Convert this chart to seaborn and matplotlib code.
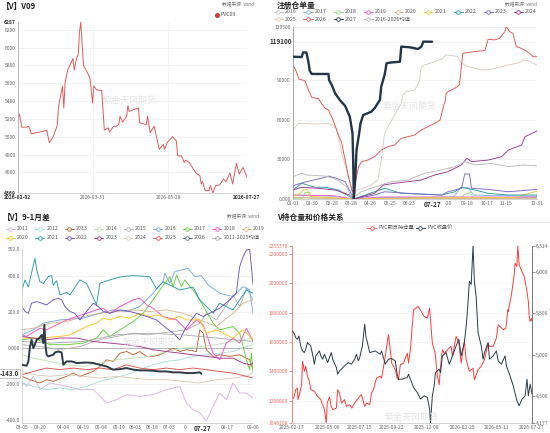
import pandas as pd
import matplotlib
matplotlib.use("Agg")
import matplotlib.pyplot as plt
import seaborn as sns
from matplotlib.lines import Line2D

W, H = 550, 433

# ---------------- [V] V09 close (days after 2026-02-02) ----------------
v09_start = "2026-02-02"
v09_day = [0, 1, 3, 6, 8, 9, 10, 22, 24, 27, 30, 31, 34, 35, 36, 38, 42, 43, 45, 46,
           47, 48, 50, 53, 55, 57, 58, 60, 64, 66, 69, 70, 73, 75, 77, 78, 80, 83, 84, 85,
           92, 93, 98, 99, 101, 104, 108, 111, 112, 114, 118, 121, 122, 125, 127, 128, 131, 134, 136, 139,
           140, 141, 143, 146, 147, 149, 151, 154, 157, 159, 162, 164, 167, 169, 172, 175]
v09_close = [5211, 5255, 5107, 5107, 5118, 5093, 5033, 5070, 4933, 5007, 5126, 5341, 5570, 5322, 5611, 5748, 5878, 5748, 5896, 5915,
             6174, 6287, 5804, 5718, 5656, 5378, 5570, 5526, 5518, 5074, 5100, 5052, 5118, 5118, 5137, 5230, 5163, 5230, 5348, 5285,
             5322, 5155, 5137, 5230, 5044, 5118, 4859, 4915, 4859, 4933, 5000, 4952, 4785, 4785, 4711, 4737, 4711, 4637, 4593, 4563,
             4470, 4496, 4396, 4396, 4452, 4369, 4452, 4459, 4526, 4496, 4593, 4470, 4704, 4581, 4655, 4544]
v09_ticks = ["2026-02-02", "2026-03-31", "2026-05-28", "2026-07-27"]

# ---------------- registered warehouse receipts: (day of year, value) ----------------
wr_2016 = [(0, 1500), (91, 0), (365, 800)]
wr_2017 = [(0, 3000), (60, 2000), (91, 0), (130, 1000), (240, 1500), (250, 8000), (262, 9000), (270, 3000), (365, 2000)]
wr_2018 = [(0, 500), (15, 500), (18, 5000), (25, 5000), (28, 0), (250, 0), (255, 3000), (265, 5000), (270, 500), (365, 1000)]
wr_2019 = [(0, 3000), (60, 2500), (91, 0), (130, 1500), (365, 1500)]
wr_2020 = [(0, 1000), (91, 0), (365, 500)]
wr_2021 = [(0, 2000), (10, 4000), (15, 7000), (22, 7000), (25, 2000), (91, 0), (200, 1000), (330, 1000), (365, 6000)]
wr_2022 = [(0, 6800), (13, 11900), (33, 8900), (48, 8900), (68, 6800), (91, 0), (137, 8100), (162, 4300), (222, 3000),
           (242, 5500), (252, 8900), (272, 6800), (292, 4300), (322, 3000), (365, 3000)]
wr_2023 = [(0, 9500), (3, 10600), (20, 13100), (48, 16400), (53, 17400), (65, 15700), (78, 13100), (91, 0), (122, 3000),
           (137, 5500), (172, 4300), (222, 3000), (232, 5500), (252, 8100), (257, 19000), (264, 19000), (267, 8100),
           (292, 7300), (322, 5500), (342, 6300), (365, 7300)]
wr_2024 = [(0, 6800), (13, 8900), (38, 8100), (63, 6800), (85, 3000), (91, 0), (122, 4300), (135, 10600), (152, 11900),
           (172, 13100), (192, 14400), (212, 18200), (232, 20700), (252, 25800), (260, 30800), (267, 28300), (292, 29500),
           (312, 32000), (322, 37100), (342, 40900), (347, 47200), (365, 51500)]
wr_2025 = [(0, 52300), (8, 57300), (33, 56800), (53, 57300), (65, 53500), (73, 34600), (80, 22000), (87, 9300), (89, 1700),
           (95, 6800), (105, 8100), (117, 10600), (127, 14400), (132, 29500), (137, 49800), (145, 57300), (152, 63600),
           (162, 72500), (164, 78800), (169, 81300), (182, 82600), (189, 88900), (192, 100300), (197, 101500), (212, 104000),
           (222, 105900), (229, 109100), (242, 108300), (246, 107800), (252, 102800), (262, 100300), (272, 99000),
           (284, 97700), (297, 98200), (322, 101500), (339, 103300), (344, 105400), (352, 104600), (365, 101500)]
wr_2026 = [(0, 101500), (4, 97700), (9, 90700), (18, 89700), (23, 82600), (28, 77000), (38, 76000), (43, 72000), (48, 68700),
           (53, 67400), (60, 59800), (67, 49800), (73, 42200), (78, 29500), (83, 16900), (88, 6800), (90, 5500), (93, 11900),
           (98, 24500), (103, 28300), (112, 29500), (122, 32000), (132, 37100), (142, 39600), (152, 40900), (162, 46000),
           (172, 47200), (182, 48500), (192, 52300), (202, 54800), (212, 57300), (220, 59800), (225, 69900), (228, 75000),
           (229, 80000), (232, 81300), (242, 83800), (249, 86400), (254, 110400), (262, 110900), (272, 111700),
           (287, 112500), (292, 121000), (302, 120500), (309, 121800), (317, 126800), (319, 130500), (324, 126800),
           (329, 125500), (334, 115400), (339, 114600), (346, 112900), (354, 110400), (359, 107800), (365, 107800)]
wr_2027 = [(0, 107800), (13, 107500), (15, 111000), (20, 111000), (23, 104000), (25, 97200), (28, 94700), (53, 94700),
           (54, 90000), (58, 86400), (63, 80000), (70, 75000), (78, 70500), (85, 62300), (89, 49800), (90, 29500), (91, 0),
           (93, 14400), (95, 37100), (99, 49800), (101, 57300), (105, 63600), (112, 65000), (117, 66100), (122, 68700),
           (130, 75000), (132, 85100), (137, 94000), (140, 102800), (145, 103300), (160, 104000), (162, 115400),
           (175, 114900), (187, 113600), (192, 115400), (195, 119200), (208, 119100)]
wr_mean = [(0, 16900), (13, 19500), (20, 18200), (48, 17400), (67, 14400), (80, 9300), (88, 500), (102, 5500), (117, 8100),
           (132, 10600), (147, 13100), (172, 14400), (197, 19500), (222, 22000), (242, 24500), (257, 28300), (272, 25800),
           (297, 27000), (322, 24500), (346, 25800), (365, 25000)]
wr_tick_labels = ["01-01", "01-30", "02-28", "03-28", "04-26", "05-25", "06-23", "-20", "09-18",
                  "10-17", "11-15", "12-31"]

# ---------------- 9-1 spread: (trading day index from 03-05, value) ----------------
spr_2011 = [(0, -185), (2.6, -213), (6.4, -157), (10.1, -231), (15.8, -194), (25.1, -213), (32.6, -231), (40.2, -231),
            (47.7, -306), (53.3, -287), (58.9, -259), (66.4, -269), (73.9, -259), (81.4, -231), (88.9, -213), (92.7, -306),
            (96.4, -343), (100.2, -361), (103.9, -407), (106.8, -343), (108.6, -306), (111.4, -250), (115.2, -287),
            (118.9, -194), (122.7, -250), (126.5, -250), (130.2, -278)]
spr_2012 = [(0, -194), (6.4, -213), (13.9, -231), (21.4, -222), (28.9, -231), (36.4, -213), (43.9, -185), (51.4, -167),
            (58.9, -148), (66.4, -120), (73.9, -93), (81.4, -74), (88.9, -65), (96.4, -46), (103.9, -37), (111.4, -28),
            (118.9, -19), (126.5, 9), (130.2, 19)]
spr_2013 = [(0, -157), (4.5, -176), (10.1, -194), (13.9, -176), (17.6, -185), (25.1, -157), (28.9, -139), (32.6, -157),
            (40.2, -130), (43.9, -102), (47.7, -65), (51.4, -74), (55.2, -28), (58.9, -19), (62.7, -37), (66.4, -19),
            (70.2, -46), (73.9, -46), (77.7, -37), (81.4, -19), (85.2, 0), (88.9, -19), (92.7, -9), (98.3, -19),
            (100.2, 102), (102.1, 83), (103.9, -9), (107.7, -46), (111.4, -37), (117.1, -46), (122.7, -37),
            (128.3, -65), (130.2, -120)]
spr_2014 = [(0, -37), (6.4, -56), (15.8, -74), (25.1, -93), (34.5, -102), (43.9, -83), (53.3, -65), (62.7, -56),
            (72, -46), (81.4, -19), (90.8, 0), (100.2, 9), (109.6, 19), (118.9, 37), (130.2, 56)]
spr_2015 = [(0, 19), (10.1, 9), (21.4, -9), (32.6, 9), (43.9, 46), (53.3, 65), (62.7, 83), (70.2, 74), (77.7, 83),
            (85.2, 93), (92.7, 102), (100.2, 139), (103.9, 194), (109.6, 157), (118.9, 296), (122.7, 231),
            (126.5, 333), (130.2, 269)]
spr_2016 = [(0, 74), (6.4, 102), (12, 139), (21.4, 157), (34.5, 167), (43.9, 194), (51.4, 213), (58.9, 204), (66.4, 231),
            (73.9, 306), (79.5, 370), (80.5, 417), (83.3, 361), (86.1, 426), (89.9, 435), (93.6, 444), (97.4, 398),
            (101.1, 404), (104.9, 352), (111.4, 306), (118.9, 287), (124.6, 343), (128.3, 324), (130.2, 194)]
spr_2017 = [(0, 46), (6.4, 56), (15.8, 19), (25.1, 19), (34.5, 28), (42, 56), (45.8, 102), (49.5, 65), (55.2, 102),
            (62.7, 148), (68.3, 194), (73.9, 269), (77.7, 324), (83.3, 398), (85.2, 343), (87.1, 407), (89.9, 343),
            (91.7, 380), (96.4, 324), (100.2, 269), (103.9, 204), (107.7, 139), (111.4, 102), (118.9, 120),
            (122.7, 83), (126.5, -65), (128.3, -120), (129.3, -28), (130.2, -139)]
spr_2018 = [(0, 74), (2.6, 65), (5.4, 83), (10.1, 111), (13.9, 102), (19.5, 130), (25.1, 157), (30.8, 176), (36.4, 194),
            (42, 213), (45.8, 222), (49.5, 194), (55.2, 231), (62.7, 269), (66.4, 278), (70.2, 241), (73.9, 222),
            (79.5, 176), (87.1, 157), (92.7, 102), (98.3, 157), (102.1, 130), (107.7, -28), (111.4, -65), (115.2, 28),
            (118.9, 56), (122.7, 28), (126.5, 111), (130.2, 37)]
spr_2019 = [(0, 102), (6.4, 111), (15.8, 139), (25.1, 148), (34.5, 176), (43.9, 194), (53.3, 204), (62.7, 213),
            (72, 204), (81.4, 213), (90.8, 194), (100.2, 157), (109.6, 120), (118.9, 194), (124.6, 250), (130.2, 269)]
spr_2020 = [(0, 56), (10.1, 56), (21.4, 65), (27, 74), (32.6, 102), (36.4, 120), (42, 139), (45.8, 167), (49.5, 157),
            (55.2, 176), (60.8, 167), (66.4, 194), (72, 176), (77.7, 185), (83.3, 157), (88.9, 176), (92.7, 157),
            (100.2, 157), (103.9, 83), (109.6, 102), (115.2, 74), (118.9, 56), (124.6, 102), (130.2, 46)]
spr_2021 = [(0, 324), (1.7, 380), (3.6, 340), (5.4, 420), (7.3, 500), (8.3, 435), (10.1, 370), (12, 360), (14.8, 398),
            (16.7, 404), (17.6, 350), (19.5, 375), (21.4, 296), (25.1, 310), (27, 296), (32.6, 380), (36.4, 360),
            (42, 241), (43.9, 361), (49.5, 380), (56.1, 398), (62.7, 404), (72, 398), (75.8, 330), (79.5, 370),
            (88.9, 324), (96.4, 340), (100.2, 269), (107.7, 194), (111.4, 250), (118.9, 213), (126.5, 324), (130.2, 306)]
spr_2022 = [(0, 231), (1.7, 204), (3.6, 194), (5.4, 250), (8.3, 259), (11.1, 250), (13.9, 241), (17.6, 269), (20.5, 278),
            (22.3, 269), (24.2, 231), (27, 204), (29.8, 194), (32.6, 157), (36.4, 204), (40.2, 250), (43, 231),
            (45.8, 204), (49.5, 194), (55.2, 213), (60.8, 204), (64.5, 194), (70.2, 176), (75.8, 157), (81.4, 111),
            (85.2, 83), (88.9, 46), (91.7, 102), (95.5, 157), (98.3, 194), (102.1, 176), (107.7, 204), (111.4, 222),
            (117.1, 269), (120.8, 306), (122.7, 454), (124.6, 509), (126.5, 546), (128.3, 552), (129.3, 454),
            (130.2, 352)]
spr_2023 = [(0, 65), (6.4, 56), (13.9, 46), (21.4, 56), (30.8, 56), (40.2, 37), (49.5, 28), (58.9, 19), (66.4, 9),
            (73.9, -9), (81.4, -19), (88.9, -28), (96.4, -37), (103.9, -46), (111.4, -56), (118.9, -56), (124.6, -83),
            (128.3, -93), (130.2, -83)]
spr_2024 = [(0, -130), (6.4, -148), (15.8, -157), (25.1, -148), (34.5, -157), (43.9, -167), (53.3, -157), (62.7, -167),
            (72, -176), (81.4, -176), (90.8, -185), (100.2, -194), (109.6, -176), (118.9, -167), (126.5, -157),
            (130.2, -139)]
spr_2025 = [(0, -148), (6.4, -130), (13.9, -111), (21.4, -120), (28.9, -111), (36.4, -120), (43.9, -111), (51.4, -120),
            (58.9, -93), (66.4, -111), (73.9, -120), (81.4, -111), (88.9, -120), (96.4, -111), (103.9, -120),
            (111.4, -130), (118.9, -139), (126.5, -157), (130.2, -167)]
spr_2026 = [(0, -93), (2.6, -98), (3.6, -74), (4.5, 9), (5.4, 46), (6.4, 0), (8.3, 46), (9.8, 56), (11.1, 74), (12, 28),
            (12.6, 130), (13.3, 9), (13.9, -37), (14.8, -46), (17.6, -37), (18.6, -24), (20.5, -19), (22.3, -24),
            (23.3, -93), (25.1, -74), (28, -74), (30.8, -83), (36.4, -80), (40.2, -83), (43.9, -93), (47.7, -102),
            (51.4, -120), (55.2, -117), (58.9, -111), (62.7, -120), (66.4, -124), (70.2, -124), (73.9, -126),
            (77.7, -130), (81.4, -130), (85.2, -135), (88.9, -135), (92.7, -139), (96.4, -139), (100.2, -135),
            (101.1, -143)]
spr_mean = [(0, 37), (15.8, 28), (34.5, 37), (53.3, 74), (72, 83), (90.8, 74), (109.6, 56), (130.2, 37)]
spr_tick_labels = ["03-05", "03-20", "04-04", "04-19", "05-04", "05-19", "06-03", "06-18", "07-03", "0",
                   "08-17", "09-06"]

# ---------------- open interest and close (days after 2025-02-17) ----------------
br_start = "2025-02-17"
oi_day = [0, 4, 8, 12, 13, 18, 21, 23, 27, 30, 34, 38, 41, 49, 56, 63, 71, 75, 77, 82,
          86, 89, 97, 100, 104, 108, 115, 119, 126, 131, 137, 148, 152, 159, 163, 170, 174, 178, 185, 193,
          196, 204, 207, 211, 215, 218, 226, 230, 233, 237, 244, 252, 255, 259, 263, 266, 276, 289, 296, 301,
          307, 313, 318, 322, 325, 329, 333, 340, 348, 351, 359, 365, 370, 377, 381, 388, 396, 399, 407, 414,
          421, 429, 432, 440, 447, 451, 462, 468, 472, 473, 477, 480, 486, 488, 492, 494, 497, 503, 508, 514,
          517, 519, 521, 524, 525]
oi = [1211000, 1218000, 1275000, 1286000, 1207000, 1264000, 1309000, 1468000, 1400000, 1434000,
      1366000, 1332000, 1275000, 1264000, 1229000, 1207000, 1139000, 1046108, 1184000, 1225000,
      1161000, 1139000, 1150000, 1275000, 1252000, 1184000, 1207000, 1161000, 1173000, 1150000,
      1184000, 1229000, 1241000, 1161000, 1184000, 1173000, 1252000, 1275000, 1354000, 1366000,
      1354000, 1502000, 1570000, 1649000, 1547000, 1456000, 1411000, 1354000, 1343000, 1445000,
      1456000, 1524000, 1456000, 1547000, 1706000, 1819000, 1842000, 1774000, 1762000, 1830000,
      1592000, 1524000, 1366000, 1309000, 1434000, 1547000, 1524000, 1547000, 1570000, 1502000,
      1638000, 1592000, 1456000, 1604000, 1479000, 1400000, 1422000, 1343000, 1411000, 1434000,
      1479000, 1592000, 1570000, 1570000, 1626000, 1717000, 1683000, 1694000, 1819000, 1807000,
      1875000, 1921000, 2057000, 2137000, 2114000, 2255370, 2125000, 2080000, 2046000, 1944000,
      1875000, 1773000, 1740000, 1762000, 1740000]
px_day = [0, 4, 8, 12, 15, 19, 23, 27, 30, 34, 41, 45, 49, 52, 60, 63, 67, 71, 78, 86,
          89, 97, 100, 104, 108, 115, 123, 130, 137, 141, 145, 148, 154, 159, 162, 165, 170, 182, 193, 196,
          204, 211, 218, 226, 230, 233, 241, 252, 255, 259, 266, 274, 281, 289, 296, 301, 303, 307, 311, 314,
          322, 325, 329, 337, 344, 351, 359, 365, 370, 377, 381, 384, 388, 392, 396, 399, 403, 407, 414, 418,
          421, 429, 432, 440, 447, 451, 458, 466, 469, 477, 484, 492, 497, 503, 510, 514, 517, 521, 525]
close = [5288, 5268, 5208, 5188, 5228, 5108, 5048, 5028, 5068, 5148, 5108, 5008, 4888, 4988, 5048, 4988, 4948, 5008, 4908, 5028,
         4948, 4848, 4768, 4808, 4828, 4868, 4908, 4888, 4948, 5008, 4928, 4968, 5108, 5368, 5208, 5148, 5028, 5048, 5008, 5048,
         4888, 4948, 4956, 4928, 4768, 4708, 4708, 4728, 4768, 4708, 4608, 4548, 4468, 4508, 4488, 4348, 4177, 4508, 4628, 4788,
         4828, 4788, 4988, 5028, 4888, 4988, 5108, 5188, 4988, 5148, 5348, 5548, 5887, 5848, 6314, 5887, 5688, 5268, 5108, 4948,
         5028, 5148, 4948, 4988, 5048, 4928, 4888, 4988, 4868, 4748, 4628, 4448, 4388, 4468, 4508, 4708, 4508, 4648, 4528]
br_ticks = ["2025-02-17", "2025-05-06", "2025-07-15", "2025-09-22", "2025-12-08", "2026-02-25", "2026-05-11", "2026-07-27"]

# ---------------- style ----------------
sns.set_theme(style="white")
plt.rcParams["font.family"] = ["Noto Sans CJK SC", "DejaVu Sans"]
plt.rcParams["axes.unicode_minus"] = False

TICK = 3.6
LEG = 3.8
fig = plt.figure(figsize=(W / 100, H / 100), dpi=100, facecolor="white")


def fx(x):
    return x / W


def fy(y):
    return 1 - y / H


def base_style(ax, left="#aaaaaa", bottom="#cccccc"):
    for s in ["top", "right"]:
        ax.spines[s].set_visible(False)
    ax.spines["left"].set_color(left)
    ax.spines["bottom"].set_color(bottom)
    ax.spines["left"].set_linewidth(0.6)
    ax.spines["bottom"].set_linewidth(0.6)
    ax.tick_params(labelsize=TICK, length=0, pad=1.5, colors="#666666")
    ax.set_xlabel("")
    ax.set_ylabel("")


def draw(ax, pts, color, lw=0.6, z=2):
    sns.lineplot(x=[p[0] for p in pts], y=[p[1] for p in pts], ax=ax, color=color,
                 linewidth=lw, zorder=z, legend=False)


def legend_item(x, y, color, label):
    fig.add_artist(Line2D([fx(x - 4.5), fx(x + 4.5)], [fy(y), fy(y)], color=color, lw=0.7,
                          transform=fig.transFigure))
    fig.add_artist(Line2D([fx(x)], [fy(y)], marker="o", ms=2.6, mfc="white", mec=color, mew=0.6,
                          transform=fig.transFigure))
    fig.text(fx(x + 7), fy(y), label, fontsize=LEG, color="#555555", va="center", ha="left")


def title(x, y, s):
    fig.text(fx(x), fy(y), s, fontsize=5.6, fontweight="bold", color="#222222", va="center", ha="left")


def source(x, y):
    fig.text(fx(x), fy(y), "数据来源: wind", fontsize=3.4, color="#777777", va="center", ha="left")


def watermark(x, y):
    fig.text(fx(x), fy(y), "紫金天风期货", fontsize=6.5, color="#e4e4e4", va="center", ha="center", zorder=0)


# ================= panel 1: V09 =================
ax1 = fig.add_axes([fx(18), fy(193), fx(247) - fx(18), fy(22) - fy(193)])
v09_x = pd.Timestamp(v09_start) + pd.to_timedelta(v09_day, unit="D")
sns.lineplot(x=v09_x, y=v09_close, ax=ax1, color="#e05a5a", linewidth=0.7, legend=False)
base_style(ax1)
ax1.set_ylim(4369, 6287)
ax1.set_xlim(pd.Timestamp(v09_ticks[0]), pd.Timestamp(v09_ticks[-1]))
yt = [4369, 4600, 4800, 5000, 5200, 5400, 5600, 5800, 6000, 6200, 6287]
ax1.set_yticks(yt)
ax1.set_yticklabels([str(v) for v in yt])
ax1.set_xticks(pd.to_datetime(v09_ticks))
ax1.set_xticklabels(v09_ticks)
for lab in [ax1.get_yticklabels()[0], ax1.get_yticklabels()[-1], ax1.get_xticklabels()[0], ax1.get_xticklabels()[-1]]:
    lab.set_fontweight("bold")
    lab.set_color("#333333")
for v in yt[1:-1]:
    ax1.axhline(v, color="#eeeeee", lw=0.5, zorder=0)
for d in v09_ticks[1:3]:
    ax1.axvline(pd.Timestamp(d), color="#eeeeee", lw=0.5, zorder=0)
title(2, 6, "【V】V09")
fig.add_artist(Line2D([fx(217)], [fy(15)], marker="o", ms=2.6, color="#d33b3b", transform=fig.transFigure))
fig.text(fx(220.5), fy(15), "PVC09", fontsize=LEG, color="#555555", va="center", ha="left")
source(222, 4)
watermark(130, 100)

# ================= panel 2: warehouse receipts =================
ax2 = fig.add_axes([fx(293), fy(199), fx(537) - fx(293), fy(26.7) - fy(199)])
wr_series = [wr_2016, wr_2017, wr_2018, wr_2019, wr_2020, wr_2021, wr_2022, wr_2023, wr_2024, wr_2025, wr_2026, wr_mean]
wr_names = ["2016", "2017", "2018", "2019", "2020", "2021", "2022", "2023", "2024", "2025", "2026", "2016-2026均值"]
wr_colors = ["#c9c9c9", "#7cb5ec", "#8fe07a", "#f25ad6", "#d4b48c", "#f5c63c", "#2a9ca4", "#7a66c8", "#9e3592",
             "#d9ccbe", "#e0544e", "#b9b9b9"]
order = [0, 1, 2, 3, 4, 5, 6, 7, 8, 11, 9, 10]
for i in order:
    draw(ax2, wr_series[i], wr_colors[i], lw=0.65)
draw(ax2, wr_2027, "#22354a", lw=1.7, z=5)
base_style(ax2, left="#999999")
ax2.set_xlim(0, 365)
ax2.set_ylim(0, 130500)
yt2 = [0, 30000, 60000, 90000, 130500]
ax2.set_yticks(yt2)
ax2.set_yticklabels(["0.000", "30000", "60000", "90000", "130500"])
ax2.set_xticks([0, 29, 58, 87, 116, 145, 174, 232, 261, 290, 319, 365])
ax2.set_xticklabels(wr_tick_labels)
for v in [30000, 60000, 90000, 119100, 130500]:
    ax2.axhline(v, color="#eeeeee", lw=0.5, zorder=0)
ax2.text(-0.006, 119100, "119100", transform=ax2.get_yaxis_transform(), ha="right", va="center",
         fontsize=4.6, fontweight="bold", color="#333333", zorder=10,
         bbox=dict(fc="white", ec="none", pad=0.6))
ax2.text(208, -0.012, "07-27", transform=ax2.get_xaxis_transform(), ha="center", va="top",
         fontsize=4.6, fontweight="bold", color="#333333", zorder=10, clip_on=False,
         bbox=dict(fc="white", ec="none", pad=0.6))
title(277, 5, "注册仓单量")
source(505, 4)
tr_row1 = list(zip(wr_names[:9], wr_colors[:9]))
tr_row2 = [("2025", wr_colors[9]), ("2026", wr_colors[10]), ("2027", "#22354a"), (wr_names[11], wr_colors[11])]
for i, (lab, col) in enumerate(tr_row1):
    legend_item(278 + 30 * i, 11.7, col, lab)
for i, (lab, col) in enumerate(tr_row2):
    legend_item(278 + 30 * i, 19.2, col, lab)
watermark(410, 106)

# ================= panel 3: 9-1 spread =================
ax3 = fig.add_axes([fx(22), fy(423), fx(253) - fx(22), fy(249) - fy(423)])
spr_series = [spr_2011, spr_2012, spr_2013, spr_2014, spr_2015, spr_2016, spr_2017, spr_2018, spr_2019,
              spr_2020, spr_2021, spr_2022, spr_2023, spr_2024, spr_2025, spr_mean]
spr_names = ["2011", "2012", "2013", "2014", "2015", "2016", "2017", "2018", "2019",
             "2020", "2021", "2022", "2023", "2024", "2025", "2011-2025均值"]
spr_colors = ["#d5b3e5", "#a9dcd7", "#c0622d", "#bfe3b5", "#b3b3b3", "#6fa9e6", "#62d03c", "#ff4cc6", "#d4b98d",
              "#ffc31a", "#2a99a3", "#6e52c2", "#a0338d", "#dccab6", "#e0524b", "#a9a9a9"]
for pts, col in zip(spr_series, spr_colors):
    draw(ax3, pts, col, lw=0.65)
draw(ax3, spr_2026, "#2e3b47", lw=1.4, z=5)
base_style(ax3, left="#cccccc", bottom="#cccccc")
ax3.set_xlim(0, 130.2)
ax3.set_ylim(-417, 552)
yt3 = [-400, -200, 0, 200, 400, 552]
ax3.set_yticks(yt3)
ax3.set_yticklabels(["-400.0", "-200.0", "0.000", "200.0", "400.0", "552.0"])
spr_tick_pos = [0, 10.1, 23.1, 34.3, 44.5, 54.6, 63.6, 73.1, 82.7, 92.0, 115.4, 130]
ax3.set_xticks(spr_tick_pos)
ax3.set_xticklabels(spr_tick_labels)
for v in [-400, -200, 200, 400]:
    ax3.axhline(v, color="#eeeeee", lw=0.5, zorder=0)
ax3.axhline(0, color="#aaaaaa", lw=0.6, zorder=1)
ax3.text(-0.012, -143, "-143.0", transform=ax3.get_yaxis_transform(), ha="right", va="center",
         fontsize=4.5, fontweight="bold", color="#333333", zorder=10, clip_on=False,
         bbox=dict(fc="white", ec="#999999", lw=0.4, pad=0.8))
ax3.text(101.8, -0.012, "07-27", transform=ax3.get_xaxis_transform(), ha="center", va="top",
         fontsize=4.6, fontweight="bold", color="#333333", zorder=10, clip_on=False,
         bbox=dict(fc="white", ec="none", pad=0.6))
title(3, 217, "【V】9-1月差")
source(227, 216)
bl_row1 = list(zip(spr_names[:9], spr_colors[:9]))
bl_row2 = list(zip(spr_names[9:15], spr_colors[9:15])) + [("2026", "#5a6570"), (spr_names[15], spr_colors[15])]
for i, (lab, col) in enumerate(bl_row1):
    legend_item(10 + 29.5 * i, 228.5, col, lab)
for i, (lab, col) in enumerate(bl_row2):
    legend_item(10 + 29.5 * i, 237.5, col, lab)
watermark(150, 342)

# ================= panel 4: open interest vs price =================
ax4 = fig.add_axes([fx(292), fy(423.3), fx(532) - fx(292), fy(245.7) - fy(423.3)])
oi_x = pd.Timestamp(br_start) + pd.to_timedelta(oi_day, unit="D")
px_x = pd.Timestamp(br_start) + pd.to_timedelta(px_day, unit="D")
sns.lineplot(x=oi_x, y=oi, ax=ax4, color="#ff3b3b", linewidth=0.7, legend=False)
ax5 = ax4.twinx()
sns.lineplot(x=px_x, y=close, ax=ax5, color="#2b3a44", linewidth=0.7, legend=False)
base_style(ax4, left="#f28b8b", bottom="#cccccc")
ax4.spines["left"].set_linewidth(0.8)
ax4.set_ylim(1046108, 2255370)
ax5.set_ylim(4177, 6314)
ax4.set_xlim(pd.Timestamp(br_ticks[0]), pd.Timestamp(br_ticks[-1]))
yt4 = [1046108, 1200000, 1400000, 1600000, 1800000, 2000000, 2200000, 2255370]
ax4.set_yticks(yt4)
ax4.set_yticklabels([str(v) for v in yt4])
ax4.tick_params(axis="y", colors="#f06a6a", length=2, width=0.5, pad=1)
ax4.set_xticks(pd.to_datetime(br_ticks))
ax4.set_xticklabels(br_ticks)
for v in yt4[1:-1]:
    ax4.axhline(v, color="#f3f3f3", lw=0.5, zorder=0)
yt5 = [4177, 4500, 5000, 5500, 6000, 6314]
ax5.set_yticks(yt5)
ax5.set_yticklabels([f"{v:,}" for v in yt5])
for s in ["top", "left", "bottom"]:
    ax5.spines[s].set_visible(False)
ax5.spines["right"].set_color("#777777")
ax5.spines["right"].set_linewidth(0.7)
ax5.tick_params(axis="y", labelsize=TICK, colors="#666666", length=2, width=0.5, pad=1)
ax5.set_ylabel("")
ax5.grid(False)
title(277, 217, "V持仓量和价格关系")
fig.add_artist(Line2D([fx(275), fx(550)], [fy(222), fy(222)], color="#dddddd", lw=0.5, transform=fig.transFigure))
legend_item(371.5, 227.7, "#ff4d4d", "PVC期货持仓量")
legend_item(420, 227.7, "#2f3e46", "PVC收盘价")
watermark(412, 417)

fig.savefig("out.png", dpi=100, facecolor="white")
